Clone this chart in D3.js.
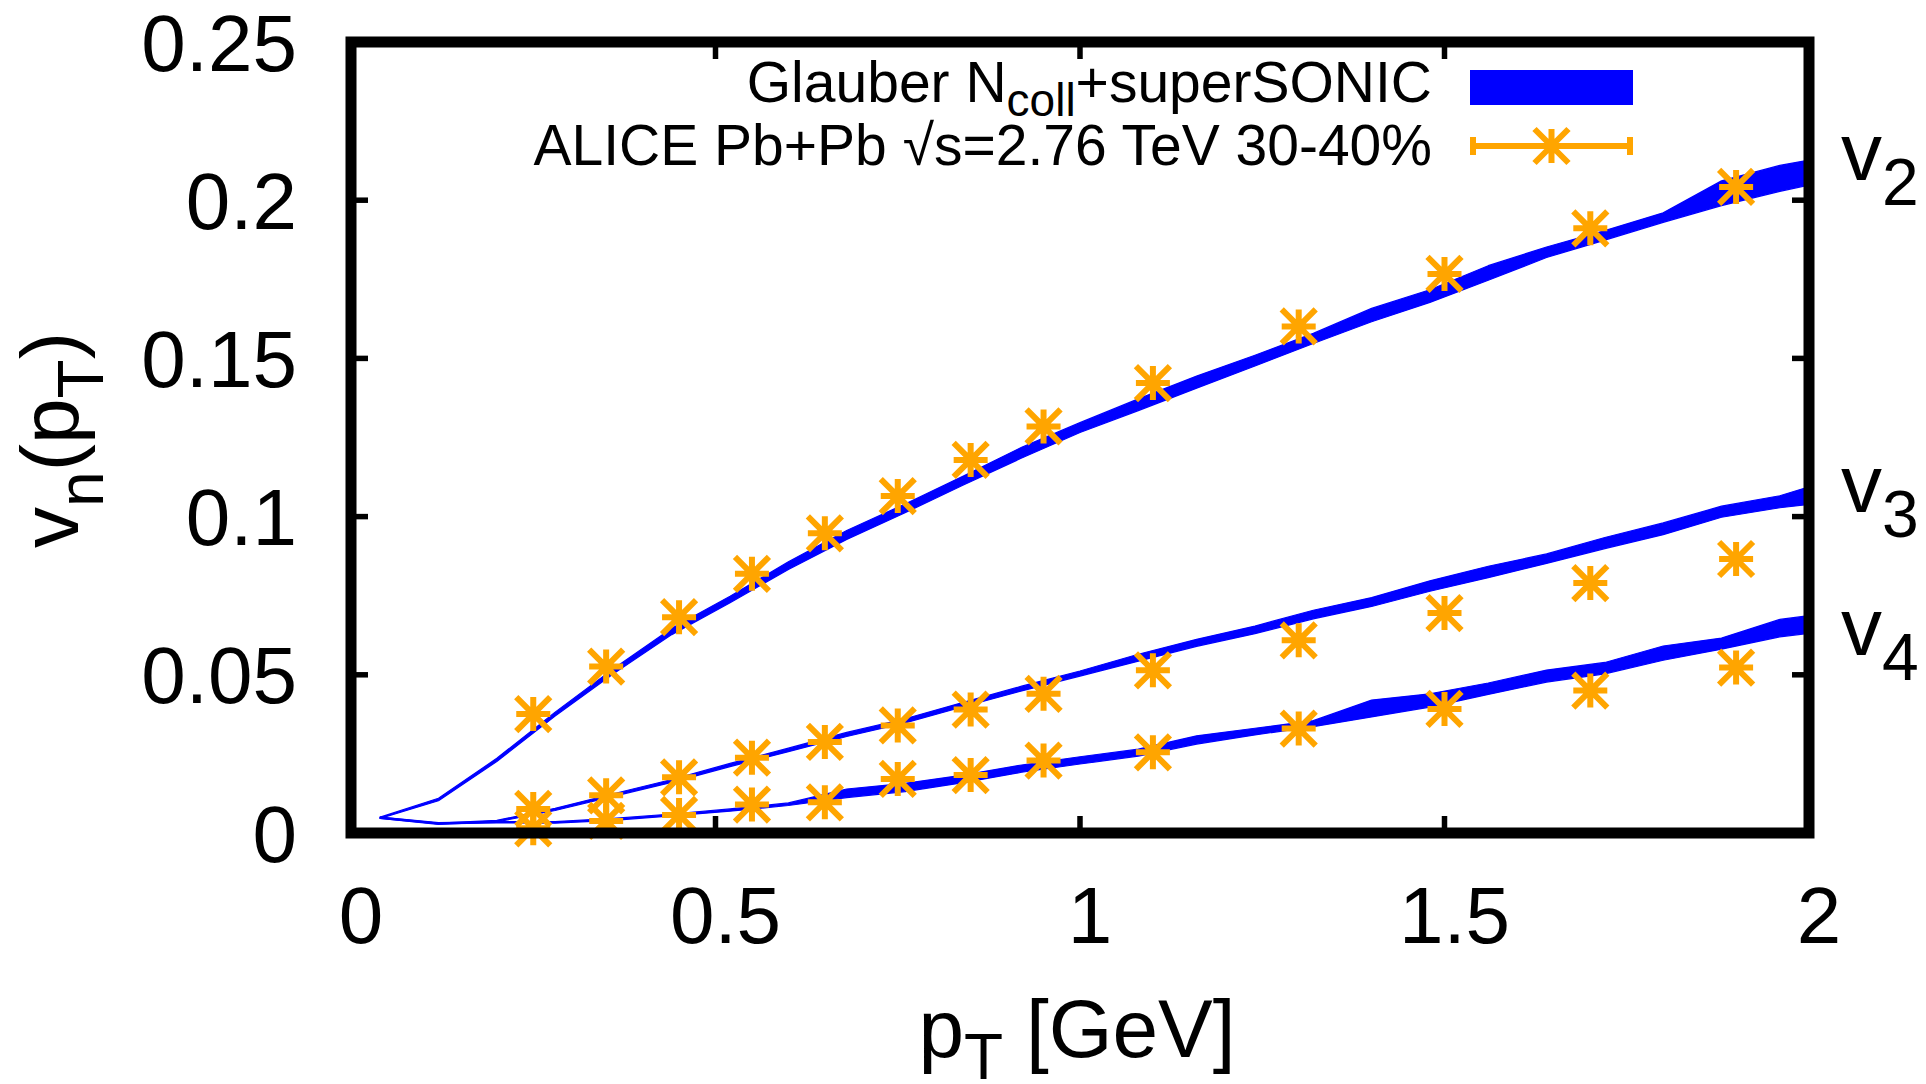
<!DOCTYPE html>
<html>
<head>
<meta charset="utf-8">
<script src="https://cdn.jsdelivr.net/npm/d3@7"></script>
<style>
  html, body { margin: 0; padding: 0; background: #fff; }
  svg { display: block; }
  text { font-family: "Liberation Sans", Arial, Helvetica, sans-serif; fill: #000; }
</style>
</head>
<body>
<svg id="chart" width="1926" height="1084"></svg>
<script>
// ---- data ----------------------------------------------------------------
// superSONIC hydro band: pT grid [GeV] with lower/upper edge of each harmonic
const ptGrid = [0.04, 0.12, 0.20, 0.28, 0.36, 0.44, 0.52, 0.60, 0.68, 0.76, 0.84, 0.92, 1.00,
                1.08, 1.16, 1.24, 1.32, 1.40, 1.48, 1.56, 1.64, 1.72, 1.80, 1.88, 1.96, 2.04];
const v2Lo = [0.0046, 0.0102, 0.0226, 0.0370, 0.0503, 0.0627, 0.0728, 0.0833, 0.0928, 0.1012, 0.1100, 0.1185, 0.1266,
              0.1335, 0.1406, 0.1476, 0.1547, 0.1616, 0.1677, 0.1747, 0.1819, 0.1874, 0.1930, 0.1983, 0.2028, 0.2068];
const v2Hi = [0.0050, 0.0110, 0.0236, 0.0382, 0.0519, 0.0647, 0.0748, 0.0857, 0.0956, 0.1040, 0.1128, 0.1219, 0.1297,
              0.1372, 0.1444, 0.1510, 0.1579, 0.1658, 0.1717, 0.1793, 0.1852, 0.1904, 0.1960, 0.2061, 0.2110, 0.2144];
const v3Lo = [0.0046, 0.0027, 0.0035, 0.0071, 0.0116, 0.0160, 0.0210, 0.0257, 0.0305, 0.0348, 0.0399, 0.0449, 0.0496,
              0.0543, 0.0590, 0.0630, 0.0677, 0.0716, 0.0764, 0.0807, 0.0852, 0.0899, 0.0943, 0.0998, 0.1028, 0.1049];
const v3Hi = [0.0050, 0.0031, 0.0040, 0.0078, 0.0124, 0.0169, 0.0220, 0.0268, 0.0318, 0.0361, 0.0413, 0.0464, 0.0512,
              0.0565, 0.0612, 0.0654, 0.0704, 0.0744, 0.0797, 0.0843, 0.0882, 0.0934, 0.0980, 0.1033, 0.1066, 0.1122];
const v4Lo = [0.0046, 0.0029, 0.0032, 0.0031, 0.0040, 0.0054, 0.0069, 0.0087, 0.0112, 0.0131, 0.0159, 0.0192, 0.0218,
              0.0243, 0.0281, 0.0310, 0.0336, 0.0367, 0.0398, 0.0438, 0.0477, 0.0503, 0.0546, 0.0581, 0.0620, 0.0642];
const v4Hi = [0.0050, 0.0033, 0.0036, 0.0036, 0.0046, 0.0060, 0.0076, 0.0095, 0.0139, 0.0157, 0.0183, 0.0215, 0.0241,
              0.0265, 0.0307, 0.0331, 0.0355, 0.0420, 0.0440, 0.0474, 0.0515, 0.0539, 0.0591, 0.0616, 0.0675, 0.0699];

// ALICE Pb+Pb 2.76 TeV, 30-40% centrality
const alicePt = [0.25, 0.35, 0.45, 0.55, 0.65, 0.75, 0.85, 0.95, 1.1, 1.3, 1.5, 1.7, 1.9];
const aliceV2 = [0.0376, 0.0526, 0.0682, 0.0819, 0.0947, 0.1065, 0.1179, 0.1285, 0.1422, 0.1601, 0.1767, 0.1911, 0.2042];
const aliceV3 = [0.0076, 0.0119, 0.0176, 0.0238, 0.0288, 0.0340, 0.0390, 0.0440, 0.0514, 0.0609, 0.0695, 0.0790, 0.0866];
const aliceV4 = [0.0015, 0.0038, 0.0057, 0.0090, 0.0097, 0.0171, 0.0183, 0.0229, 0.0255, 0.0330, 0.0392, 0.0450, 0.0523];

const xTicks = [0, 0.5, 1, 1.5, 2];
const xTickLabels = ["0", "0.5", "1", "1.5", "2"];
const yTicks = [0, 0.05, 0.1, 0.15, 0.2, 0.25];
const yTickLabels = ["0", "0.05", "0.1", "0.15", "0.2", "0.25"];

const harmonicLabels = ["2", "3", "4"];
const harmonicLabelAt = [[2.044, 0.2064], [2.044, 0.1015], [2.044, 0.0563]];

const legendModel = "Glauber N";
const legendModelSub = "coll";
const legendModelTail = "+superSONIC";
const legendData = "ALICE Pb+Pb \u221As=2.76 TeV 30-40%";

// ---- layout --------------------------------------------------------------
const svg = d3.select("#chart");
const BLUE = "#0000ff", ORANGE = "#ffa500";
const x = d3.scaleLinear().domain([0, 2]).range([351, 1809]);
const y = d3.scaleLinear().domain([0, 0.25]).range([833, 42]);

svg.append("rect").attr("width", 1926).attr("height", 1084).attr("fill", "#fff");

svg.append("defs").append("clipPath").attr("id", "plotClip")
  .append("rect")
  .attr("x", x(0)).attr("y", y(0.25))
  .attr("width", x(2) - x(0)).attr("height", y(0) - y(0.25));

// ---- hydro bands ---------------------------------------------------------
const band = d3.area()
  .x(d => x(d.pt))
  .y0(d => y(d.lo))
  .y1(d => y(d.hi));

const bands = [[v2Lo, v2Hi], [v3Lo, v3Hi], [v4Lo, v4Hi]];
const bandG = svg.append("g").attr("clip-path", "url(#plotClip)");
bands.forEach(([lo, hi]) => {
  const rows = ptGrid.map((pt, i) => ({ pt, lo: lo[i], hi: hi[i] }));
  bandG.append("path")
    .attr("d", band(rows))
    .attr("fill", BLUE)
    .attr("stroke", BLUE)
    .attr("stroke-width", 1.2)
    .attr("stroke-linejoin", "round");
});

// ---- data points (asterisk markers) ----------------------------------------
const S = 17;
const starPath = `M${-S},0H${S}M0,${-S}V${S}M${-S},${-S}L${S},${S}M${-S},${S}L${S},${-S}`;
const starG = svg.append("g");
[aliceV2, aliceV3, aliceV4].forEach(vals => {
  starG.selectAll(null)
    .data(alicePt.map((pt, i) => ({ pt, v: vals[i] })))
    .enter().append("path")
    .attr("d", starPath)
    .attr("transform", d => `translate(${x(d.pt)},${y(d.v)})`)
    .attr("fill", "none")
    .attr("stroke", ORANGE)
    .attr("stroke-width", 6);
});

// ---- frame and ticks -------------------------------------------------------
const TICK = 17;
const tickG = svg.append("g").attr("stroke", "#000").attr("stroke-width", 5.5);
xTicks.forEach(t => {
  tickG.append("line").attr("x1", x(t)).attr("x2", x(t)).attr("y1", y(0)).attr("y2", y(0) - TICK);
  tickG.append("line").attr("x1", x(t)).attr("x2", x(t)).attr("y1", y(0.25)).attr("y2", y(0.25) + TICK);
});
yTicks.forEach(t => {
  tickG.append("line").attr("x1", x(0)).attr("x2", x(0) + TICK).attr("y1", y(t)).attr("y2", y(t));
  tickG.append("line").attr("x1", x(2)).attr("x2", x(2) - TICK).attr("y1", y(t)).attr("y2", y(t));
});

svg.append("rect")
  .attr("x", x(0)).attr("y", y(0.25))
  .attr("width", x(2) - x(0)).attr("height", y(0) - y(0.25))
  .attr("fill", "none").attr("stroke", "#000").attr("stroke-width", 11)
  .attr("stroke-linejoin", "miter");

// ---- tick labels -----------------------------------------------------------
const tickFont = 80;
svg.append("g").selectAll("text")
  .data(xTicks).enter().append("text")
  .attr("x", d => x(d) + 10).attr("y", 943)
  .attr("text-anchor", "middle").attr("font-size", tickFont)
  .text((d, i) => xTickLabels[i]);

svg.append("g").selectAll("text")
  .data(yTicks).enter().append("text")
  .attr("x", 297).attr("y", d => y(d) + 28.5)
  .attr("text-anchor", "end").attr("font-size", tickFont)
  .text((d, i) => yTickLabels[i]);

// ---- axis titles -----------------------------------------------------------
const xt = svg.append("text").attr("x", 1077).attr("y", 1057)
  .attr("text-anchor", "middle").attr("font-size", 82);
xt.append("tspan").text("p");
xt.append("tspan").attr("font-size", 64).attr("dy", 22).text("T");
xt.append("tspan").attr("dy", -22).text(" [GeV]");

const yt = svg.append("text")
  .attr("transform", "translate(78,440) rotate(-90)")
  .attr("text-anchor", "middle").attr("font-size", 82);
yt.append("tspan").text("v");
yt.append("tspan").attr("font-size", 64).attr("dy", 25).text("n");
yt.append("tspan").attr("dy", -25).text("(p");
yt.append("tspan").attr("font-size", 64).attr("dy", 25).text("T");
yt.append("tspan").attr("dy", -25).text(")");

// ---- harmonic labels at right edge ----------------------------------------
harmonicLabels.forEach((n, i) => {
  const [px, pv] = harmonicLabelAt[i];
  const t = svg.append("text").attr("x", x(px)).attr("y", y(pv)).attr("font-size", 82);
  t.append("tspan").text("v");
  t.append("tspan").attr("font-size", 66).attr("dy", 25).text(n);
});

// ---- legend ----------------------------------------------------------------
const keyFont = 57, keyRight = 1432, sampleX0 = 1470, sampleX1 = 1633;
const k1 = svg.append("text").attr("x", keyRight).attr("y", 102)
  .attr("text-anchor", "end").attr("font-size", keyFont);
k1.append("tspan").text(legendModel);
k1.append("tspan").attr("font-size", 46).attr("dy", 14).text(legendModelSub);
k1.append("tspan").attr("dy", -14).text(legendModelTail);
svg.append("rect").attr("x", sampleX0).attr("y", 70)
  .attr("width", sampleX1 - sampleX0).attr("height", 35).attr("fill", BLUE);

svg.append("text").attr("x", keyRight).attr("y", 165)
  .attr("text-anchor", "end").attr("font-size", keyFont).text(legendData);
const ky = 146;
const kg = svg.append("g").attr("stroke", ORANGE).attr("stroke-width", 6).attr("fill", "none");
kg.append("line").attr("x1", sampleX0).attr("x2", sampleX1).attr("y1", ky).attr("y2", ky);
kg.append("line").attr("x1", sampleX0 + 3).attr("x2", sampleX0 + 3).attr("y1", ky - 9).attr("y2", ky + 9);
kg.append("line").attr("x1", sampleX1 - 3).attr("x2", sampleX1 - 3).attr("y1", ky - 9).attr("y2", ky + 9);
kg.append("path").attr("d", starPath)
  .attr("transform", `translate(${(sampleX0 + sampleX1) / 2},${ky})`);
</script>
</body>
</html>
